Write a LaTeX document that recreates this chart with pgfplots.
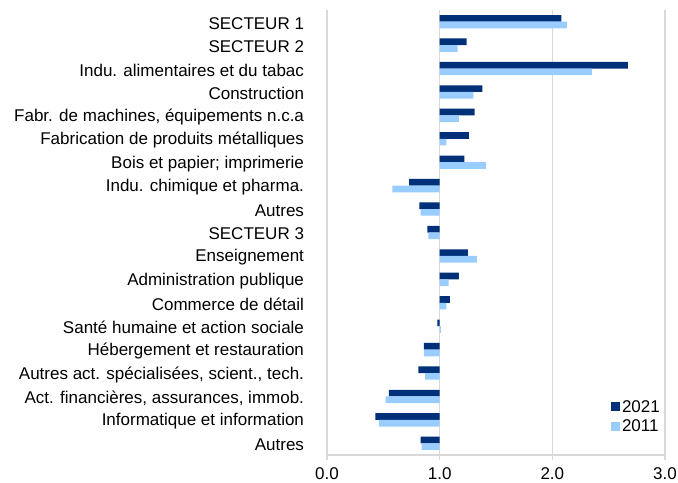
\documentclass[border=0pt]{standalone}
\usepackage{pgfplots}
\usepackage{pgfplotstable}
\pgfplotsset{compat=1.18}
\usepackage{fontspec}
\setmainfont{Liberation Sans}
\definecolor{dark}{RGB}{0,48,120}
\definecolor{light}{RGB}{153,204,255}
\definecolor{gridc}{RGB}{217,217,217}
\pgfplotstableread{
idx y21 y11
0 2.08 2.13
1 1.24 1.16
2 2.67 2.35
3 1.38 1.30
4 1.31 1.17
5 1.26 1.06
6 1.22 1.41
7 0.73 0.58
8 0.82 0.83
9 0.89 0.90
10 1.25 1.33
11 1.17 1.08
12 1.09 1.06
13 0.98 1.01
14 0.86 0.86
15 0.81 0.87
16 0.55 0.52
17 0.43 0.46
18 0.83 0.84
}\data
\begin{document}
\begin{tikzpicture}
\useasboundingbox (0,0) rectangle (678bp,483bp);
\begin{axis}[
  at={(327bp,28bp)}, anchor=south west,
  scale only axis, width=338bp, height=445bp,
  font=\fontsize{17bp}{20bp}\selectfont,
  xmin=-1, xmax=2, ymin=-0.5, ymax=18.5, y dir=reverse,
  axis y line=left, axis x line=bottom,
  y axis line style={draw=none},
  x axis line style={gridc, line width=1.3bp, -},
  xtick={-1,0,1,2}, xticklabels={0.0,1.0,2.0,3.0},
  xtick align=outside, major tick length=5bp,
  xtick style={gridc, line width=1.3bp},
  ytick style={draw=none},
  xmajorgrids, grid style={gridc, line width=1.3bp},
  xticklabel style={yshift=-4bp},
  ytick={0,...,18},
  yticklabel style={xshift=-17bp, yshift=-1.5bp},
  yticklabels={{SECTEUR 1},{SECTEUR 2},{Indu. alimentaires et du tabac},{Construction},{Fabr. de machines, équipements n.c.a},{Fabrication de produits métalliques},{Bois et papier; imprimerie},{Indu. chimique et pharma.},{Autres},{SECTEUR 3},{Enseignement},{Administration publique},{Commerce de détail},{Santé humaine et action sociale},{Hébergement et restauration},{Autres act. spécialisées, scient., tech.},{Act. financières, assurances, immob.},{Informatique et information},{Autres}},
  legend style={at={(axis description cs:1,0.04)}, anchor=south east, draw=none, fill=none, row sep=2bp, font=\fontsize{17bp}{20bp}\selectfont},
  legend cell align=left,
  legend image code/.code={\fill[#1] (0bp,-4.5bp) rectangle (9bp,4.5bp);},
]
\addplot[xbar, bar width=6.67bp, bar shift=3.33bp, fill=dark, draw=none] table[x expr=\thisrow{y21}-1, y=idx] {\data};
\addlegendentry{2021}
\addplot[xbar, bar width=6.67bp, bar shift=-3.33bp, fill=light, draw=none] table[x expr=\thisrow{y11}-1, y=idx] {\data};
\addlegendentry{2011}
\end{axis}
\end{tikzpicture}
\end{document}
